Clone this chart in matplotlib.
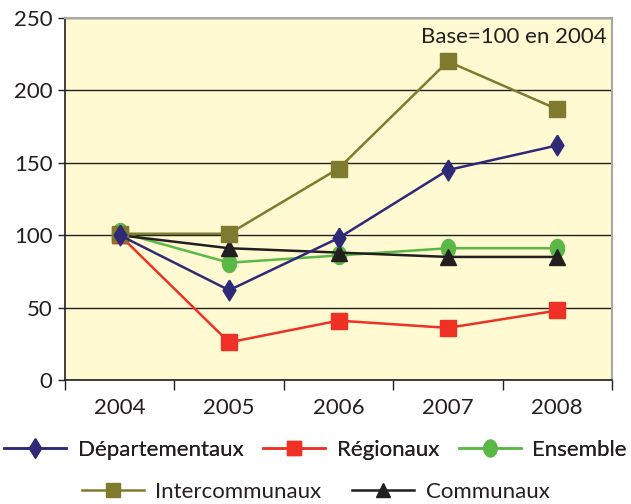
import numpy as np
import matplotlib.pyplot as plt
from matplotlib.lines import Line2D
from matplotlib.path import Path

plt.rcParams['font.family'] = ['Lato', 'DejaVu Sans']

YEARS = ["2004", "2005", "2006", "2007", "2008"]

DEPARTEMENTAUX = [100, 62, 98, 145, 162]
REGIONAUX = [100, 26, 41, 36, 48]
ENSEMBLE = [102, 81, 86, 91, 91]
INTERCOMMUNAUX = [101, 101, 146, 220, 187]
COMMUNAUX = [100, 91, 88, 85, 85]

# tall diamond and tall ellipse, as in the original print
DIAMOND = Path([(0, 1), (0.62, 0), (0, -1), (-0.62, 0), (0, 1)])
t = np.linspace(0, 2 * np.pi, 40)
ELLIPSE = Path(np.column_stack([0.78 * np.cos(t), np.sin(t)]))

SERIES = [
    ("Départementaux", DEPARTEMENTAUX, "#2e2a78", DIAMOND, 15),
    ("Régionaux", REGIONAUX, "#ee3124", "s", 11),
    ("Ensemble", ENSEMBLE, "#5ab946", ELLIPSE, 13),
    ("Intercommunaux", INTERCOMMUNAUX, "#7f7a2e", "s", 11),
    ("Communaux", COMMUNAUX, "#231f20", "^", 11),
]

fig = plt.figure(figsize=(6.31, 5.04), dpi=100)
ax = fig.add_axes([65 / 631, 1 - 380 / 504, 547 / 631, 362 / 504])
ax.set_facecolor("#fffad2")

x = list(range(len(YEARS)))
handles = {}
order = ["Ensemble", "Communaux", "Régionaux", "Intercommunaux", "Départementaux"]
for name, vals, color, marker, ms in SERIES:
    z = 3 + order.index(name)
    ax.plot(x, vals, color=color, lw=1.8, zorder=z)
    ax.plot(x, vals, ls="none", marker=marker, color=color, ms=ms,
            markeredgecolor=color, zorder=z, clip_on=False)
    handles[name] = Line2D([], [], color=color, lw=1.8, marker=marker,
                           ms=ms - 1, markeredgecolor=color)

ax.set_xlim(-0.5, 4.5)
ax.set_ylim(0, 250)
ax.set_yticks(range(0, 251, 50))
ax.set_xticks(x)
ax.set_xticklabels(YEARS)
ax.set_xticks([i - 0.5 for i in range(6)], minor=True)
ax.tick_params(axis="x", which="major", length=0, pad=13, labelsize=16, colors="#231f20")
ax.tick_params(axis="x", which="minor", length=7, width=1, color="#231f20", direction="out")
ax.tick_params(axis="y", length=5, width=1, labelsize=16, colors="#231f20", pad=4)
ax.grid(axis="y", color="#231f20", lw=1, zorder=1)
ax.set_axisbelow(True)

for side in ["left", "bottom"]:
    ax.spines[side].set_color("#231f20")
    ax.spines[side].set_linewidth(1.2)
for side in ["top", "right"]:
    ax.spines[side].set_color("#a8a8a8")
    ax.spines[side].set_linewidth(1.5)

ax.text(0.99, 0.975, "Base=100 en 2004", transform=ax.transAxes,
        ha="right", va="top", fontsize=16, color="#231f20")

row1 = ["Départementaux", "Régionaux", "Ensemble"]
row2 = ["Intercommunaux", "Communaux"]
leg1 = fig.legend([handles[n] for n in row1], row1, loc="center",
                  bbox_to_anchor=(0.5, 1 - 450 / 504), ncol=3, frameon=False,
                  fontsize=16, handlelength=2.8, columnspacing=0.9, handletextpad=0.5,
                  labelcolor="#231f20")
leg2 = fig.legend([handles[n] for n in row2], row2, loc="center",
                  bbox_to_anchor=(0.5, 1 - 492 / 504), ncol=2, frameon=False,
                  fontsize=16, handlelength=2.8, columnspacing=1.4, handletextpad=0.5,
                  labelcolor="#231f20")
fig.add_artist(leg1)

fig.savefig("out.png", dpi=100)
